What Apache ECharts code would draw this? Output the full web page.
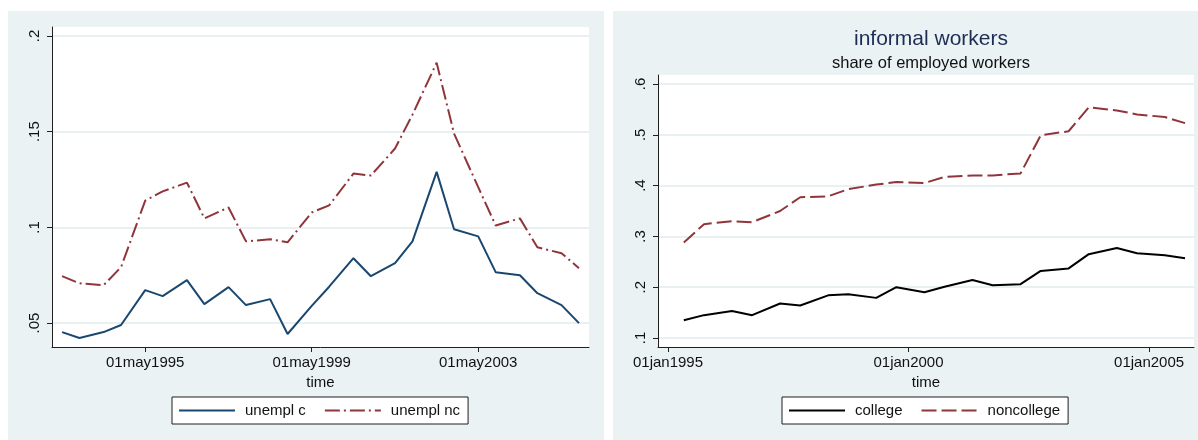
<!DOCTYPE html>
<html>
<head>
<meta charset="utf-8">
<script src="https://cdn.jsdelivr.net/npm/echarts@6/dist/echarts.min.js"></script>
<style>
  html, body { margin: 0; padding: 0; background: #ffffff; }
  #chart { width: 1198px; height: 440px; }
</style>
</head>
<body>
<div id="chart"></div>
<script>
// Survey dates (May and October waves)
const datesUnempl = [
  '1993-05-01','1993-10-01','1994-05-01','1994-10-01','1995-05-01','1995-10-01',
  '1996-05-01','1996-10-01','1997-05-01','1997-10-01','1998-05-01','1998-10-01',
  '1999-05-01','1999-10-01','2000-05-01','2000-10-01','2001-05-01','2001-10-01',
  '2002-05-01','2002-10-01','2003-05-01','2003-10-01','2004-05-01','2004-10-01',
  '2005-05-01','2005-10-01'
];
// Unemployment rate, college educated
const unemplC = [
  0.0453, 0.0422, 0.0453, 0.0490, 0.0672, 0.0641, 0.0724, 0.0599, 0.0688, 0.0594,
  0.0625, 0.0443, 0.0590, 0.0690, 0.0839, 0.0745, 0.0813, 0.0927, 0.1290, 0.0990,
  0.0953, 0.0766, 0.0750, 0.0656, 0.0594, 0.0500
];
// Unemployment rate, non-college
const unemplNC = [
  0.0745, 0.0708, 0.0698, 0.0792, 0.1140, 0.1188, 0.1234, 0.1047, 0.1104, 0.0927,
  0.0938, 0.0922, 0.1078, 0.1115, 0.1281, 0.1271, 0.1412, 0.1589, 0.1860, 0.1490,
  0.1210, 0.1010, 0.1047, 0.0896, 0.0865, 0.0787
];

const datesInformal = [
  '1995-05-01','1995-10-01','1996-05-01','1996-10-01','1997-05-01','1997-10-01',
  '1998-05-01','1998-10-01','1999-05-01','1999-10-01','2000-05-01','2000-10-01',
  '2001-05-01','2001-10-01','2002-05-01','2002-10-01','2003-05-01','2003-10-01',
  '2004-05-01','2004-10-01','2005-05-01','2005-10-01'
];
// Informal share of employed workers
const informalCollege = [
  0.135, 0.145, 0.153, 0.145, 0.168, 0.164, 0.184, 0.186, 0.179, 0.200, 0.190,
  0.201, 0.214, 0.204, 0.206, 0.232, 0.237, 0.265, 0.277, 0.267, 0.263, 0.257
];
const informalNoncollege = [
  0.288, 0.324, 0.330, 0.328, 0.350, 0.377, 0.379, 0.393, 0.402, 0.407, 0.405,
  0.417, 0.420, 0.420, 0.424, 0.499, 0.507, 0.554, 0.548, 0.540, 0.535, 0.523
];

// Axis tick labels
const leftXTicks = ['1995-05-01', '1999-05-01', '2003-05-01'];
const rightXTicks = ['1995-01-01', '2000-01-01', '2005-01-01'];
const leftYTicks = [0.05, 0.10, 0.15, 0.20];
const rightYTicks = [0.1, 0.2, 0.3, 0.4, 0.5, 0.6];

const MONTHS = ['jan','feb','mar','apr','may','jun','jul','aug','sep','oct','nov','dec'];

function ts(s) {
  const p = s.split('-').map(Number);
  return new Date(p[0], p[1] - 1, p[2]).getTime();
}
function stataDate(v) {
  const d = new Date(v);
  const dd = String(d.getDate()).padStart(2, '0');
  return dd + MONTHS[d.getMonth()] + d.getFullYear();
}
function stataNum(v) {
  let s = String(Math.round(v * 1000) / 1000);
  if (s.startsWith('0.')) s = s.slice(1);
  return s;
}
function pairs(dates, vals) {
  return dates.map((d, i) => [ts(d), vals[i]]);
}

const FONT = '"Liberation Sans", Arial, sans-serif';
const AXIS_COLOR = '#1f1f1f';
const GRID_COLOR = '#e2ebee';
const PANEL_BG = '#eaf2f3';
const NAVY = '#1a476f';
const MAROON = '#90353b';

function xAxisCfg(gridIndex, min, max, ticks) {
  const vals = ticks.map(ts);
  return {
    type: 'value', gridIndex: gridIndex, min: min, max: max,
    name: 'time', nameLocation: 'middle', nameGap: 24,
    nameTextStyle: { fontFamily: FONT, fontSize: 15, color: '#111' },
    axisLine: { show: true, onZero: false, lineStyle: { color: AXIS_COLOR, width: 1 } },
    axisTick: { show: true, length: 5, customValues: vals, lineStyle: { color: AXIS_COLOR } },
    axisLabel: { customValues: vals, margin: 8, fontFamily: FONT, fontSize: 15, color: '#111',
                 formatter: stataDate },
    splitLine: { show: false }
  };
}
function yAxisCfg(gridIndex, min, max, ticks) {
  return {
    type: 'value', gridIndex: gridIndex, min: min, max: max,
    axisLine: { show: true, onZero: false, lineStyle: { color: AXIS_COLOR, width: 1 } },
    axisTick: { show: true, length: 5, customValues: ticks, lineStyle: { color: AXIS_COLOR } },
    axisLabel: { customValues: ticks, rotate: 90, margin: 10, fontFamily: FONT, fontSize: 15,
                 color: '#111', formatter: stataNum },
    splitLine: { show: true, lineStyle: { color: GRID_COLOR, width: 1.5 } }
  };
}
function legendCfg(left, names) {
  return {
    left: left, top: 397, orient: 'horizontal',
    data: names,
    itemWidth: 56, itemHeight: 14, itemGap: 18,
    padding: [6, 8, 6, 6],
    itemStyle: { opacity: 0 },
    backgroundColor: '#ffffff', borderColor: '#1f1f1f', borderWidth: 1, borderRadius: 0,
    textStyle: { fontFamily: FONT, fontSize: 15, color: '#111', padding: [0, 0, 0, 5] }
  };
}

const chart = echarts.init(document.getElementById('chart'), null, { renderer: 'canvas' });

chart.setOption({
  backgroundColor: '#ffffff',
  animation: false,
  graphic: [
    { type: 'rect', z: -100, silent: true, shape: { x: 8, y: 11, width: 596, height: 429 }, style: { fill: PANEL_BG } },
    { type: 'rect', z: -100, silent: true, shape: { x: 613, y: 11, width: 585, height: 429 }, style: { fill: PANEL_BG } }
  ],
  title: [
    { text: 'informal workers', left: 926, top: 24, textAlign: 'center',
      textStyle: { fontFamily: FONT, fontSize: 21, fontWeight: 'normal', color: '#1c2c55' } },
    { text: 'share of employed workers', left: 926, top: 50, textAlign: 'center',
      textStyle: { fontFamily: FONT, fontSize: 16.5, fontWeight: 'normal', color: '#111' } }
  ],
  legend: [
    legendCfg(172, ['unempl c', 'unempl nc']),
    legendCfg(782, ['college', 'noncollege'])
  ],
  grid: [
    { left: 52, top: 27, width: 537, height: 320, show: true, backgroundColor: '#ffffff',
      borderWidth: 0, outerBoundsMode: 'none' },
    { left: 658, top: 75, width: 536, height: 272, show: true, backgroundColor: '#ffffff',
      borderWidth: 0, outerBoundsMode: 'none' }
  ],
  xAxis: [
    xAxisCfg(0, ts('1993-02-02'), ts('2005-12-28'), leftXTicks),
    xAxisCfg(1, ts('1994-10-17'), ts('2005-12-08'), rightXTicks)
  ],
  yAxis: [
    yAxisCfg(0, 0.0375, 0.2047, leftYTicks),
    yAxisCfg(1, 0.0823, 0.6177, rightYTicks)
  ],
  series: [
    { name: 'unempl c', type: 'line', xAxisIndex: 0, yAxisIndex: 0,
      data: pairs(datesUnempl, unemplC), symbol: 'none', smooth: false,
      itemStyle: { color: NAVY },
      lineStyle: { color: NAVY, width: 2 } },
    { name: 'unempl nc', type: 'line', xAxisIndex: 0, yAxisIndex: 0,
      data: pairs(datesUnempl, unemplNC), symbol: 'none', smooth: false,
      itemStyle: { color: MAROON },
      lineStyle: { color: MAROON, width: 2, type: [15, 4, 2, 4] } },
    { name: 'college', type: 'line', xAxisIndex: 1, yAxisIndex: 1,
      data: pairs(datesInformal, informalCollege), symbol: 'none', smooth: false,
      itemStyle: { color: '#000000' },
      lineStyle: { color: '#000000', width: 2 } },
    { name: 'noncollege', type: 'line', xAxisIndex: 1, yAxisIndex: 1,
      data: pairs(datesInformal, informalNoncollege), symbol: 'none', smooth: false,
      itemStyle: { color: MAROON },
      lineStyle: { color: MAROON, width: 2, type: [15, 5] } }
  ]
});
</script>
</body>
</html>
